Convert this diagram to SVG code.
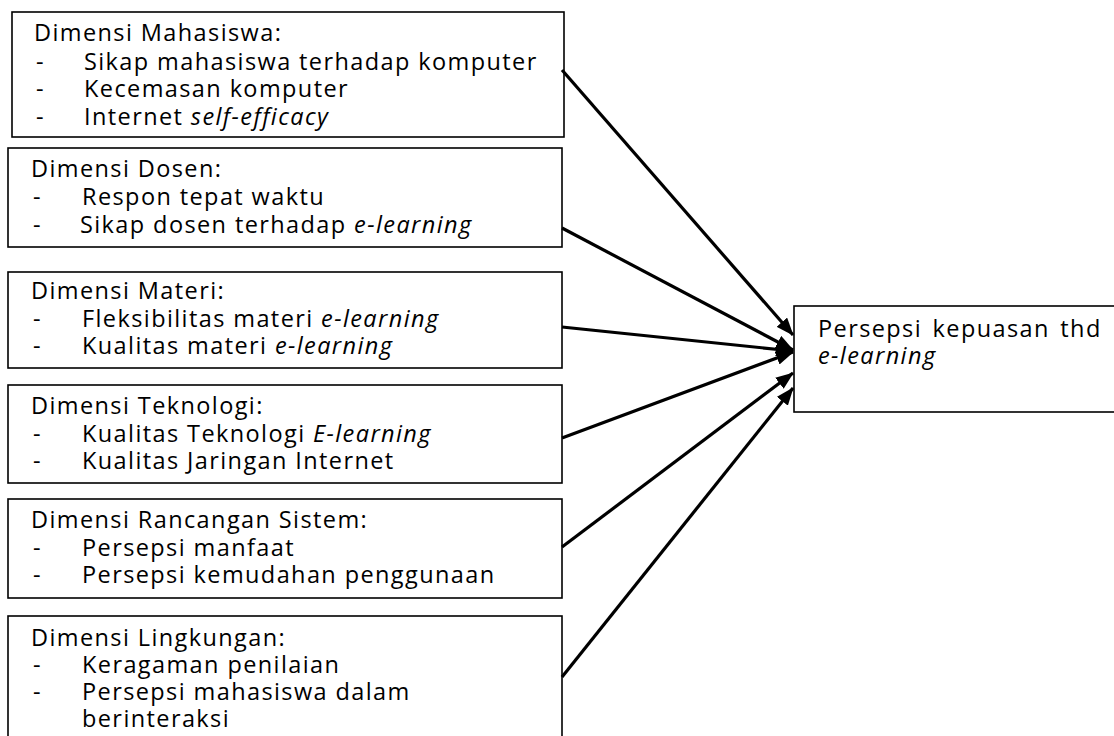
<svg xmlns="http://www.w3.org/2000/svg" width="1114" height="736" viewBox="0 0 1114 736">
<defs>
<style>
.box{fill:#fff;stroke:#000;stroke-width:1.6}
.t{font-family:"Open Sans","Noto Sans",sans-serif;font-size:23.5px;letter-spacing:1.4px;fill:#000}
.i{font-style:italic}
.c{stroke:#000;stroke-width:3.2;fill:none;marker-end:url(#ah)}
</style>
<marker id="ah" markerUnits="userSpaceOnUse" markerWidth="18" markerHeight="14" refX="17" refY="7" orient="auto">
<path d="M0,0 L18,7 L0,14 Z" fill="#000"/>
</marker>
</defs>
<rect width="1114" height="736" fill="#fff"/>
<g id="n1">
<rect class="box" x="12" y="12" width="552" height="125"/>
<text class="t" x="34" y="41">Dimensi Mahasiswa:</text>
<text class="t" x="36" y="70">-</text><text class="t" x="84" y="70">Sikap mahasiswa terhadap komputer</text>
<text class="t" x="36" y="97">-</text><text class="t" x="84" y="97">Kecemasan komputer</text>
<text class="t" x="36" y="125">-</text><text class="t" x="84" y="125">Internet <tspan class="i">self-efficacy</tspan></text>
</g>
<g id="n2">
<rect class="box" x="8" y="148" width="554" height="99"/>
<text class="t" x="31" y="177">Dimensi Dosen:</text>
<text class="t" x="33" y="205">-</text><text class="t" x="82" y="205">Respon tepat waktu</text>
<text class="t" x="33" y="233">-</text><text class="t" x="80" y="233">Sikap dosen terhadap <tspan class="i">e-learning</tspan></text>
</g>
<g id="n3">
<rect class="box" x="8" y="272" width="554" height="96"/>
<text class="t" x="31" y="299">Dimensi Materi:</text>
<text class="t" x="33" y="327">-</text><text class="t" x="82" y="327">Fleksibilitas materi <tspan class="i">e-learning</tspan></text>
<text class="t" x="33" y="354">-</text><text class="t" x="82" y="354">Kualitas materi <tspan class="i">e-learning</tspan></text>
</g>
<g id="n4">
<rect class="box" x="8" y="385" width="554" height="98"/>
<text class="t" x="31" y="414">Dimensi Teknologi:</text>
<text class="t" x="33" y="442">-</text><text class="t" x="82" y="442">Kualitas Teknologi <tspan class="i">E-learning</tspan></text>
<text class="t" x="33" y="469">-</text><text class="t" x="82" y="469">Kualitas Jaringan Internet</text>
</g>
<g id="n5">
<rect class="box" x="8" y="499" width="554" height="99"/>
<text class="t" x="31" y="528">Dimensi Rancangan Sistem:</text>
<text class="t" x="33" y="556">-</text><text class="t" x="82" y="556">Persepsi manfaat</text>
<text class="t" x="33" y="583">-</text><text class="t" x="82" y="583">Persepsi kemudahan penggunaan</text>
</g>
<g id="n6">
<rect class="box" x="8" y="616" width="554" height="130"/>
<text class="t" x="31" y="646">Dimensi Lingkungan:</text>
<text class="t" x="33" y="673">-</text><text class="t" x="82" y="673">Keragaman penilaian</text>
<text class="t" x="33" y="700">-</text><text class="t" x="82" y="700">Persepsi mahasiswa dalam</text>
<text class="t" x="82" y="727">berinteraksi</text>
</g>
<g id="target">
<rect class="box" x="794" y="306" width="330" height="106"/>
<text class="t" x="818" y="337" word-spacing="3">Persepsi kepuasan thd</text>
<text class="t i" x="818" y="364">e-learning</text>
</g>
<g id="connectors">
<line class="c" x1="562" y1="70" x2="793" y2="335"/>
<line class="c" x1="562" y1="228" x2="793" y2="350"/>
<line class="c" x1="562" y1="327" x2="793" y2="351"/>
<line class="c" x1="562" y1="438" x2="793" y2="352"/>
<line class="c" x1="562" y1="547" x2="793" y2="373"/>
<line class="c" x1="562" y1="677" x2="793" y2="388"/>
</g>
</svg>
